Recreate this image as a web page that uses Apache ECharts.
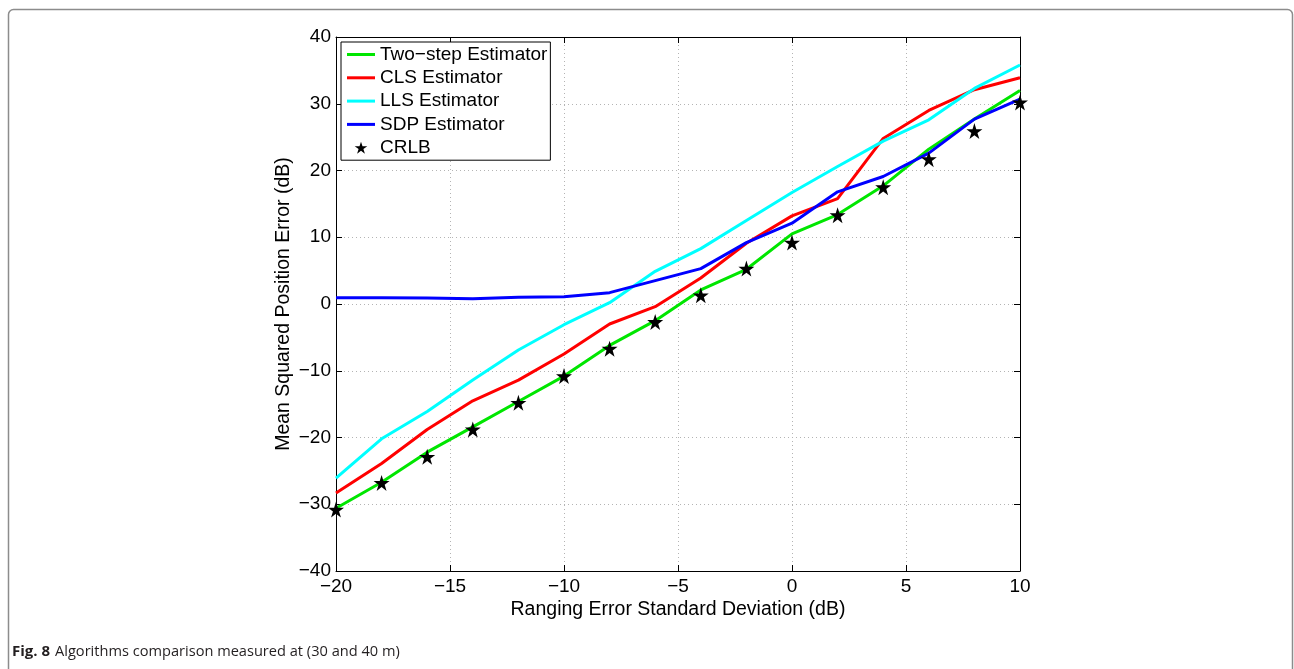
<!DOCTYPE html>
<html>
<head>
<meta charset="utf-8">
<script src="https://cdn.jsdelivr.net/npm/echarts@6/dist/echarts.min.js"></script>
<style>
  html, body { margin: 0; padding: 0; background: #fff; }
  #chart { width: 1294px; height: 669px; }
</style>
</head>
<body>
<div id="chart"></div>
<script>
// Ranging error standard deviation (dB)
const sigmaDb = [-20, -18, -16, -14, -12, -10, -8, -6, -4, -2, 0, 2, 4, 6, 8, 10];

// Mean squared position error (dB) per estimator
const twoStep = [-30.6, -26.7, -22.2, -18.4, -14.6, -10.8, -6.2, -2.5, 2.1, 5.2, 10.5, 13.4, 17.7, 23.2, 27.7, 32.0];
const clsEst  = [-28.3, -23.9, -18.8, -14.5, -11.4, -7.5, -3.0, -0.4, 3.9, 9.1, 13.2, 15.8, 24.8, 29.0, 32.1, 33.9];
const llsEst  = [-26.1, -20.2, -16.1, -11.4, -6.9, -3.1, 0.2, 4.9, 8.3, 12.5, 16.7, 20.6, 24.4, 27.6, 32.3, 35.8];
const sdpEst  = [0.95, 0.95, 0.9, 0.8, 1.0, 1.1, 1.7, 3.5, 5.3, 9.2, 12.1, 16.8, 19.1, 22.6, 27.7, 30.7];
const crlb    = [-30.8, -26.8, -22.9, -18.8, -14.8, -10.8, -6.7, -2.7, 1.3, 5.3, 9.2, 13.3, 17.5, 21.7, 25.9, 30.2];

const seriesNames = ['Two\u2212step Estimator', 'CLS Estimator', 'LLS Estimator', 'SDP Estimator', 'CRLB'];

const STAR = 'path://M50,0 L61.2,34.5 L97.6,34.5 L68.2,55.9 L79.4,90.5 L50,69.1 L20.6,90.5 L31.8,55.9 L2.4,34.5 L38.8,34.5 Z';
const LINE_ICON = 'path://M0,0 L28,0 L28,3 L0,3 Z';
const FONT = '"Liberation Sans", Arial, Helvetica, sans-serif';

const pairs = ys => sigmaDb.map((x, i) => [x, ys[i]]);
const minus = v => String(v).replace('-', '\u2212');

function lineSeries(name, ys, color) {
  return {
    name, type: 'line', data: pairs(ys),
    symbol: 'none', smooth: false,
    lineStyle: { color, width: 3 },
    itemStyle: { color },
    emphasis: { disabled: true },
    animation: false
  };
}

const chart = echarts.init(document.getElementById('chart'), null, { renderer: 'canvas' });

const gridLine = { show: true, lineStyle: { color: '#b4b4b4', type: [1, 3], width: 1 } };
const frameAxis = {
  axisLine: { show: true, onZero: false, lineStyle: { color: '#000', width: 1 } },
  axisTick: { show: true, inside: true, length: 6, lineStyle: { color: '#000' } }
};

chart.setOption({
  animation: false,
  backgroundColor: '#fff',
  title: {
    left: 12, top: 643, padding: 0,
    text: '{b|Fig. 8} {n|Algorithms comparison measured at (30 and 40 m)}',
    textStyle: {
      rich: {
        b: { fontFamily: '"Open Sans", sans-serif', fontWeight: 'bold', fontSize: 15, color: '#231f20' },
        n: { fontFamily: '"Open Sans", sans-serif', fontWeight: 'normal', fontSize: 14.6, color: '#231f20' }
      }
    }
  },
  graphic: [{
    type: 'rect', silent: true, z: -1,
    shape: { x: 8.5, y: 9.5, width: 1284, height: 720, r: 5 },
    style: { fill: 'none', stroke: '#8c8c8c', lineWidth: 1.5 }
  }],
  legend: {
    orient: 'vertical', left: 341, top: 42,
    padding: [3, 3, 3, 6],
    itemWidth: 28, itemHeight: 12, itemGap: 4.3,
    backgroundColor: '#fff', borderColor: '#000', borderWidth: 1,
    textStyle: { fontFamily: FONT, fontSize: 19, lineHeight: 19, color: '#000' },
    data: [
      { name: seriesNames[0], icon: LINE_ICON },
      { name: seriesNames[1], icon: LINE_ICON },
      { name: seriesNames[2], icon: LINE_ICON },
      { name: seriesNames[3], icon: LINE_ICON },
      { name: seriesNames[4], icon: STAR }
    ],
    z: 10
  },
  grid: { left: 336, right: 274, top: 37, bottom: 98, containLabel: false },
  xAxis: [Object.assign({
    type: 'value', min: -20, max: 10, interval: 5, position: 'bottom',
    name: 'Ranging Error Standard Deviation (dB)', nameLocation: 'middle', nameGap: 29,
    nameMoveOverlap: false,
    nameTextStyle: { fontFamily: FONT, fontSize: 19.5, color: '#000' },
    axisLabel: { margin: 6, fontFamily: FONT, fontSize: 19, color: '#000', formatter: minus },
    splitLine: gridLine
  }, frameAxis), Object.assign({
    type: 'value', min: -20, max: 10, interval: 5, position: 'top',
    axisLabel: { show: false }, splitLine: { show: false }
  }, frameAxis)],
  yAxis: [Object.assign({
    type: 'value', min: -40, max: 40, interval: 10, position: 'left',
    name: 'Mean Squared Position Error (dB)', nameLocation: 'middle', nameGap: 42,
    nameMoveOverlap: false,
    nameTextStyle: { fontFamily: FONT, fontSize: 19.5, color: '#000' },
    axisLabel: { margin: 5, fontFamily: FONT, fontSize: 19, color: '#000', formatter: minus },
    splitLine: gridLine
  }, frameAxis), Object.assign({
    type: 'value', min: -40, max: 40, interval: 10, position: 'right',
    axisLabel: { show: false }, splitLine: { show: false }
  }, frameAxis)],
  series: [
    lineSeries(seriesNames[0], twoStep, '#00e600'),
    lineSeries(seriesNames[1], clsEst, '#ff0000'),
    lineSeries(seriesNames[2], llsEst, '#00ffff'),
    lineSeries(seriesNames[3], sdpEst, '#0000ff'),
    {
      name: seriesNames[4], type: 'scatter', data: pairs(crlb),
      symbol: STAR, symbolSize: 16,
      itemStyle: { color: '#000', opacity: 1 },
      emphasis: { disabled: true },
      z: 5
    }
  ]
});
</script>
</body>
</html>
